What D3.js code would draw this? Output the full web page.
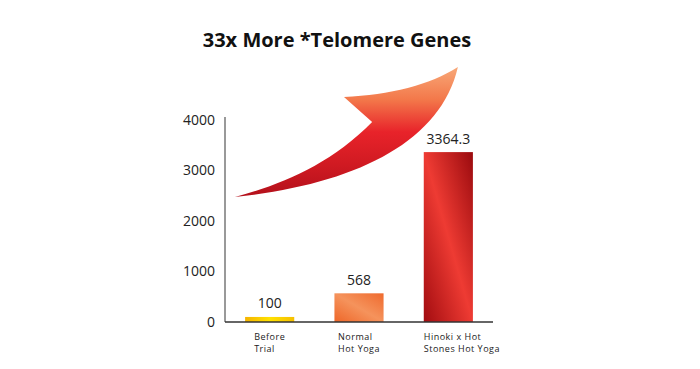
<!DOCTYPE html>
<html>
<head>
<meta charset="utf-8">
<script src="https://cdn.jsdelivr.net/npm/d3@7"></script>
<style>
  html, body { margin: 0; padding: 0; background: #fff; }
  svg { display: block; }
</style>
</head>
<body>
<svg id="chart" width="700" height="369"></svg>
<script>
// ---- data ----
const categories = ["Before Trial", "Normal Hot Yoga", "Hinoki x Hot Stones Hot Yoga"];
const categoryLines = [["Before", "Trial"], ["Normal", "Hot Yoga"], ["Hinoki x Hot", "Stones Hot Yoga"]];
const values = [100, 568, 3364.3];
const valueLabels = ["100", "568", "3364.3"];
const yTicks = [0, 1000, 2000, 3000, 4000];
const title = "33x More *Telomere Genes";

// decorative arrow outline (cubic segments), in (fraction of plot width, value) units
const arrowTail = [0.037, 2475];
const arrowTip = [0.869, 5049];
const arrowCorner = [0.444, 4455];
const arrowNotch = [0.549, 3960];
const arrowLowerCtrl = [[0.466, 2713], [0.802, 3505]];
const arrowHeadCtrl = [[0.765, 4693], [0.616, 4495]];
const arrowUpperCtrl = [[0.392, 3109], [0.205, 2713]];

// ---- layout ----
const svg = d3.select("#chart");
const plot = { left: 225, right: 493, top: 120, bottom: 322 };

const x = d3.scaleBand().domain(categories).range([plot.left, plot.right]).paddingInner(0.45).paddingOuter(0.225);
const y = d3.scaleLinear().domain([0, 4000]).range([plot.bottom, plot.top]);
const fx = d3.scaleLinear().domain([0, 1]).range([plot.left, plot.right]);
const P = d => [fx(d[0]), y(d[1])];

const defs = svg.append("defs");

// gradients
const gArrow = defs.append("linearGradient").attr("id", "gArrow")
  .attr("gradientUnits", "userSpaceOnUse")
  .attr("x1", 0).attr("x2", 0).attr("y1", y(arrowTip[1])).attr("y2", y(arrowTail[1]));
[["0%","#f8a878"],["25%","#f3784a"],["50%","#e8232a"],["75%","#d01a22"],["100%","#b3101b"]]
  .forEach(([o,c]) => gArrow.append("stop").attr("offset", o).attr("stop-color", c));

const g0 = defs.append("linearGradient").attr("id", "g0").attr("x1", 0).attr("x2", 1).attr("y1", 0).attr("y2", 0);
[["0%","#f5b400"],["50%","#ffe100"],["100%","#f6c000"]].forEach(([o,c]) => g0.append("stop").attr("offset", o).attr("stop-color", c));

const g1 = defs.append("linearGradient").attr("id", "g1").attr("x1", 0).attr("x2", 1).attr("y1", 1).attr("y2", 0);
[["0%","#ee6628"],["50%","#f5935c"],["100%","#ef6a2e"]].forEach(([o,c]) => g1.append("stop").attr("offset", o).attr("stop-color", c));

const g2 = defs.append("linearGradient").attr("id", "g2").attr("x1", 0).attr("x2", 1).attr("y1", 1).attr("y2", 0);
[["0%","#a20c10"],["50%","#ee3b33"],["100%","#9a0a0e"]].forEach(([o,c]) => g2.append("stop").attr("offset", o).attr("stop-color", c));

const fills = ["url(#g0)", "url(#g1)", "url(#g2)"];

// title
svg.append("text")
  .attr("x", 337).attr("y", 47)
  .attr("text-anchor", "middle")
  .attr("font-family", "'Open Sans', sans-serif")
  .attr("font-weight", 700)
  .attr("font-size", 20)
  .attr("fill", "#111")
  .text(title);

// y axis
const yAxis = d3.axisLeft(y).tickValues(yTicks).tickSize(0).tickPadding(10).tickFormat(d3.format("d"));
const ya = svg.append("g").attr("transform", `translate(${plot.left},0)`).call(yAxis);
ya.select(".domain").remove();
ya.selectAll("text")
  .attr("font-family", "'Open Sans', sans-serif")
  .attr("font-size", 14)
  .attr("fill", "#222");

svg.append("line")
  .attr("x1", plot.left).attr("x2", plot.left)
  .attr("y1", y(4000) - 3).attr("y2", plot.bottom)
  .attr("stroke", "#555").attr("stroke-width", 1.2);

// arrow
const p = d3.path();
const t0 = P(arrowTail), t1 = P(arrowTip), c0 = P(arrowCorner), n0 = P(arrowNotch);
const lc = arrowLowerCtrl.map(P), hc = arrowHeadCtrl.map(P), uc = arrowUpperCtrl.map(P);
p.moveTo(...t0);
p.bezierCurveTo(...lc[0], ...lc[1], ...t1);
p.bezierCurveTo(...hc[0], ...hc[1], ...c0);
p.lineTo(...n0);
p.bezierCurveTo(...uc[0], ...uc[1], ...t0);
p.closePath();
svg.append("path").attr("d", p.toString()).attr("fill", "url(#gArrow)");

// bars
svg.selectAll("rect.bar").data(values).join("rect")
  .attr("class", "bar")
  .attr("x", (d, i) => x(categories[i]))
  .attr("width", x.bandwidth())
  .attr("y", d => y(d))
  .attr("height", d => y(0) - y(d))
  .attr("fill", (d, i) => fills[i]);

// baseline
svg.append("line")
  .attr("x1", plot.left).attr("x2", plot.right)
  .attr("y1", plot.bottom).attr("y2", plot.bottom)
  .attr("stroke", "#333").attr("stroke-width", 1.5);

// value labels
svg.selectAll("text.val").data(values).join("text")
  .attr("class", "val")
  .attr("x", (d, i) => x(categories[i]) + x.bandwidth() / 2)
  .attr("y", d => y(d) - 8.5)
  .attr("text-anchor", "middle")
  .attr("font-family", "'Open Sans', sans-serif")
  .attr("font-size", 14)
  .attr("fill", "#222")
  .text((d, i) => valueLabels[i]);

// category labels
categories.forEach((c, i) => {
  const t = svg.append("text")
    .attr("font-family", "'Open Sans', sans-serif")
    .attr("font-size", 9)
    .attr("font-weight", 500)
    .attr("letter-spacing", 0.5)
    .attr("fill", "#222");
  categoryLines[i].forEach((ln, j) => {
    t.append("tspan").attr("y", 340 + j * 12).text(ln);
  });
  const spans = t.selectAll("tspan").nodes();
  const w = d3.max(spans, n => n.getComputedTextLength());
  const left = x(c) + Math.max(0, (x.bandwidth() - w) / 2);
  t.selectAll("tspan").attr("x", left);
});
</script>
</body>
</html>
